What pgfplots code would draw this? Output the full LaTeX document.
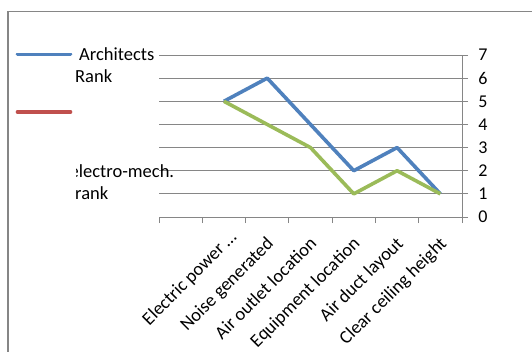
\documentclass[border=0pt]{standalone}
\usepackage{pgfplots}
\pgfplotsset{compat=1.18}
\usepackage{fontspec}
\setmainfont{Carlito}
\definecolor{xlblue}{RGB}{79,129,189}
\definecolor{xlred}{RGB}{192,80,77}
\definecolor{xlgreen}{RGB}{155,187,89}
\definecolor{gridgray}{RGB}{134,134,134}
\begin{document}
\fontsize{18.5bp}{22bp}\selectfont
\begin{tikzpicture}
\path[use as bounding box] (0bp,0bp) rectangle (532bp,-352bp);
\draw[color=gridgray, line width=1.8bp] (8.3bp,-353bp) -- (8.3bp,-11.5bp) -- (533bp,-11.5bp);
\begin{axis}[
  at={(159bp,-217bp)}, anchor=south west,
  scale only axis, width=303bp, height=162bp,
  xmin=0, xmax=7, ymin=0, ymax=7,
  axis x line*=bottom, axis y line*=right,
  axis line style={gridgray, line width=1bp, -},
  tick style={gridgray, line width=1bp},
  tick align=outside, major tick length=6bp,
  ymajorgrids, major grid style={gridgray, line width=1bp},
  ytick={0,...,7},
  yticklabel style={anchor=west, xshift=4bp, font=\fontsize{18bp}{20bp}\selectfont},
  xtick={0,...,7}, xticklabels={},
  extra x ticks={1.5,2.5,3.5,4.5,5.5,6.5},
  extra x tick labels={{Electric power \ldots\hspace*{-9bp}},Noise generated,Air outlet location,Equipment location,Air duct layout,Clear ceiling height},
  extra x tick style={major tick length=0pt, xticklabel style={xshift=-2bp, yshift=-17bp, rotate=45, anchor=north east, inner sep=1bp, font=\fontsize{18.5bp}{20bp}\selectfont}},
  /pgf/number format/assume math mode=true,
  clip=false,
]
\addplot[xlblue, line width=3.6bp, line join=round] coordinates {(1.5,5) (2.5,6) (3.5,4) (4.5,2) (5.5,3) (6.5,1)};
\addplot[xlgreen, line width=3.6bp, line join=round] coordinates {(1.5,5) (2.5,4) (3.5,3) (4.5,1) (5.5,2) (6.5,1)};
\end{axis}
\draw[xlblue, line width=3.6bp, line cap=round] (17.5bp,-54.3bp) -- (70.5bp,-54.3bp);
\draw[xlred, line width=3.6bp, line cap=round] (17.5bp,-112bp) -- (70.5bp,-112bp);
\node[anchor=base west, inner sep=0pt] at (79bp,-60bp) {Architects};
\node[anchor=base west, inner sep=0pt] at (75bp,-82.5bp) {Rank};
\begin{scope}
\clip (76bp,-150bp) rectangle (200bp,-185bp);
\node[anchor=base west, inner sep=0pt] at (69.5bp,-177bp) {electro-mech.};
\end{scope}
\node[anchor=base west, inner sep=0pt] at (75bp,-199.5bp) {rank};
\end{tikzpicture}
\end{document}
